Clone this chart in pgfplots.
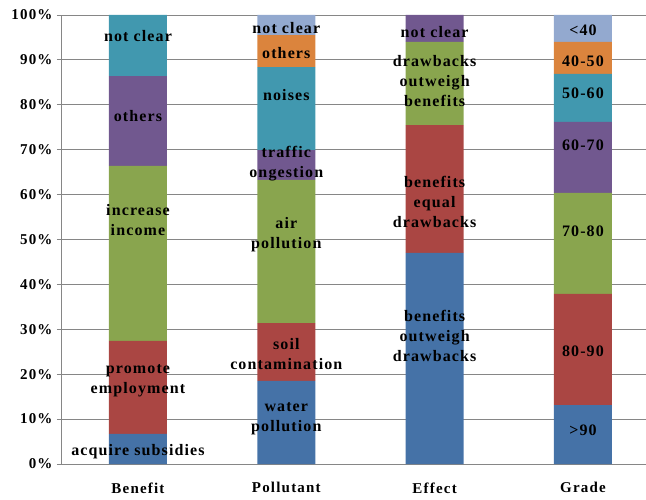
\documentclass[border=0pt]{standalone}
\usepackage{fontspec}
\setmainfont{Liberation Serif}[LetterSpace=8]
\usepackage{pgfplots}
\pgfplotsset{compat=1.18}
\definecolor{c1}{HTML}{4572A7}
\definecolor{c2}{HTML}{AA4643}
\definecolor{c3}{HTML}{89A54E}
\definecolor{c4}{HTML}{71588F}
\definecolor{c5}{HTML}{4198AF}
\definecolor{c6}{HTML}{DB843D}
\definecolor{c7}{HTML}{93A9CF}
\definecolor{gridc}{HTML}{868686}
\tikzset{lab/.style={font=\fontsize{16}{20}\selectfont\bfseries\addfontfeatures{LetterSpace=7}, align=center, text=black, inner sep=0pt}}
\begin{document}
\begin{tikzpicture}
\useasboundingbox (-61pt,-35pt) rectangle (585pt,464pt);
\begin{axis}[
  scale only axis, width=585pt, height=449pt,
  at={(0pt,0pt)}, anchor=south west,
  ybar stacked, bar width=58pt,
  xmin=-0.519, xmax=3.425, ymin=0, ymax=100,
  xtick=data, xticklabels={Benefit,Pollutant,Effect,Grade},
  ytick={0,10,...,100},
  yticklabel={\pgfmathprintnumber{\tick}\%},
  /pgf/number format/assume math mode=true,
  ymajorgrids, grid style={gridc, line width=0.9pt},
  axis x line*=bottom, axis y line*=left,
  axis line style={gridc, line width=0.9pt, -},
  x tick style={draw=none},
  y tick style={gridc, line width=0.9pt},
  major tick length=4pt,
  tick align=outside,
  ticklabel style={font=\fontsize{15}{18}\selectfont\bfseries, text=black},
  yticklabel style={xshift=-1pt},
  xticklabel style={yshift=-11pt},
]
\addplot[fill=c1, draw=none] coordinates {(0,6.7) (1,18.5) (2,47.0) (3,13.1)};
\addplot[fill=c2, draw=none] coordinates {(0,20.7) (1,12.9) (2,28.5) (3,24.8)};
\addplot[fill=c3, draw=none] coordinates {(0,39.0) (1,31.9) (2,18.5) (3,22.5)};
\addplot[fill=c4, draw=none] coordinates {(0,20.0) (1,6.6) (2,6.0) (3,15.8)};
\addplot[fill=c5, draw=none] coordinates {(0,13.6) (1,18.5) (2,0) (3,10.7)};
\addplot[fill=c6, draw=none] coordinates {(0,0) (1,7.1) (2,0) (3,7.1)};
\addplot[fill=c7, draw=none] coordinates {(0,0) (1,4.5) (2,0) (3,6.0)};
\coordinate (a1) at (axis cs:0,95.3);
\coordinate (a2) at (axis cs:0,77.5);
\coordinate (a3) at (axis cs:0,54.3);
\coordinate (a4) at (axis cs:0,18.5);
\coordinate (a5) at (axis cs:0,2.7);
\coordinate (b1) at (axis cs:1,97.1);
\coordinate (b2) at (axis cs:1,91.5);
\coordinate (b3) at (axis cs:1,82.2);
\coordinate (b4) at (axis cs:1,66.8);
\coordinate (b5) at (axis cs:1,51.0);
\coordinate (b6) at (axis cs:1,24.4);
\coordinate (b7) at (axis cs:1,10.2);
\coordinate (e1) at (axis cs:2,96.2);
\coordinate (e2) at (axis cs:2,85.3);
\coordinate (e3) at (axis cs:2,58.4);
\coordinate (e4) at (axis cs:2,28.5);
\coordinate (g1) at (axis cs:3,96.7);
\coordinate (g2) at (axis cs:3,89.8);
\coordinate (g3) at (axis cs:3,82.6);
\coordinate (g4) at (axis cs:3,71.0);
\coordinate (g5) at (axis cs:3,51.9);
\coordinate (g6) at (axis cs:3,25.2);
\coordinate (g7) at (axis cs:3,7.6);
\end{axis}
\node[lab] at (a1) {not clear};
\node[lab] at (a2) {others};
\node[lab] at (a3) {increase\\income};
\node[lab] at (a4) {promote\\employment};
\node[lab] at (a5) {acquire subsidies};
\node[lab] at (b1) {not clear};
\node[lab] at (b2) {others};
\node[lab] at (b3) {noises};
\node[lab] at (b4) {traffic\\ongestion};
\node[lab] at (b5) {air\\pollution};
\node[lab] at (b6) {soil\\contamination};
\node[lab] at (b7) {water\\pollution};
\node[lab] at (e1) {not clear};
\node[lab] at (e2) {drawbacks\\outweigh\\benefits};
\node[lab] at (e3) {benefits\\equal\\drawbacks};
\node[lab] at (e4) {benefits\\outweigh\\drawbacks};
\node[lab] at (g1) {<40};
\node[lab] at (g2) {40-50};
\node[lab] at (g3) {50-60};
\node[lab] at (g4) {60-70};
\node[lab] at (g5) {70-80};
\node[lab] at (g6) {80-90};
\node[lab] at (g7) {>90};
\end{tikzpicture}
\end{document}
